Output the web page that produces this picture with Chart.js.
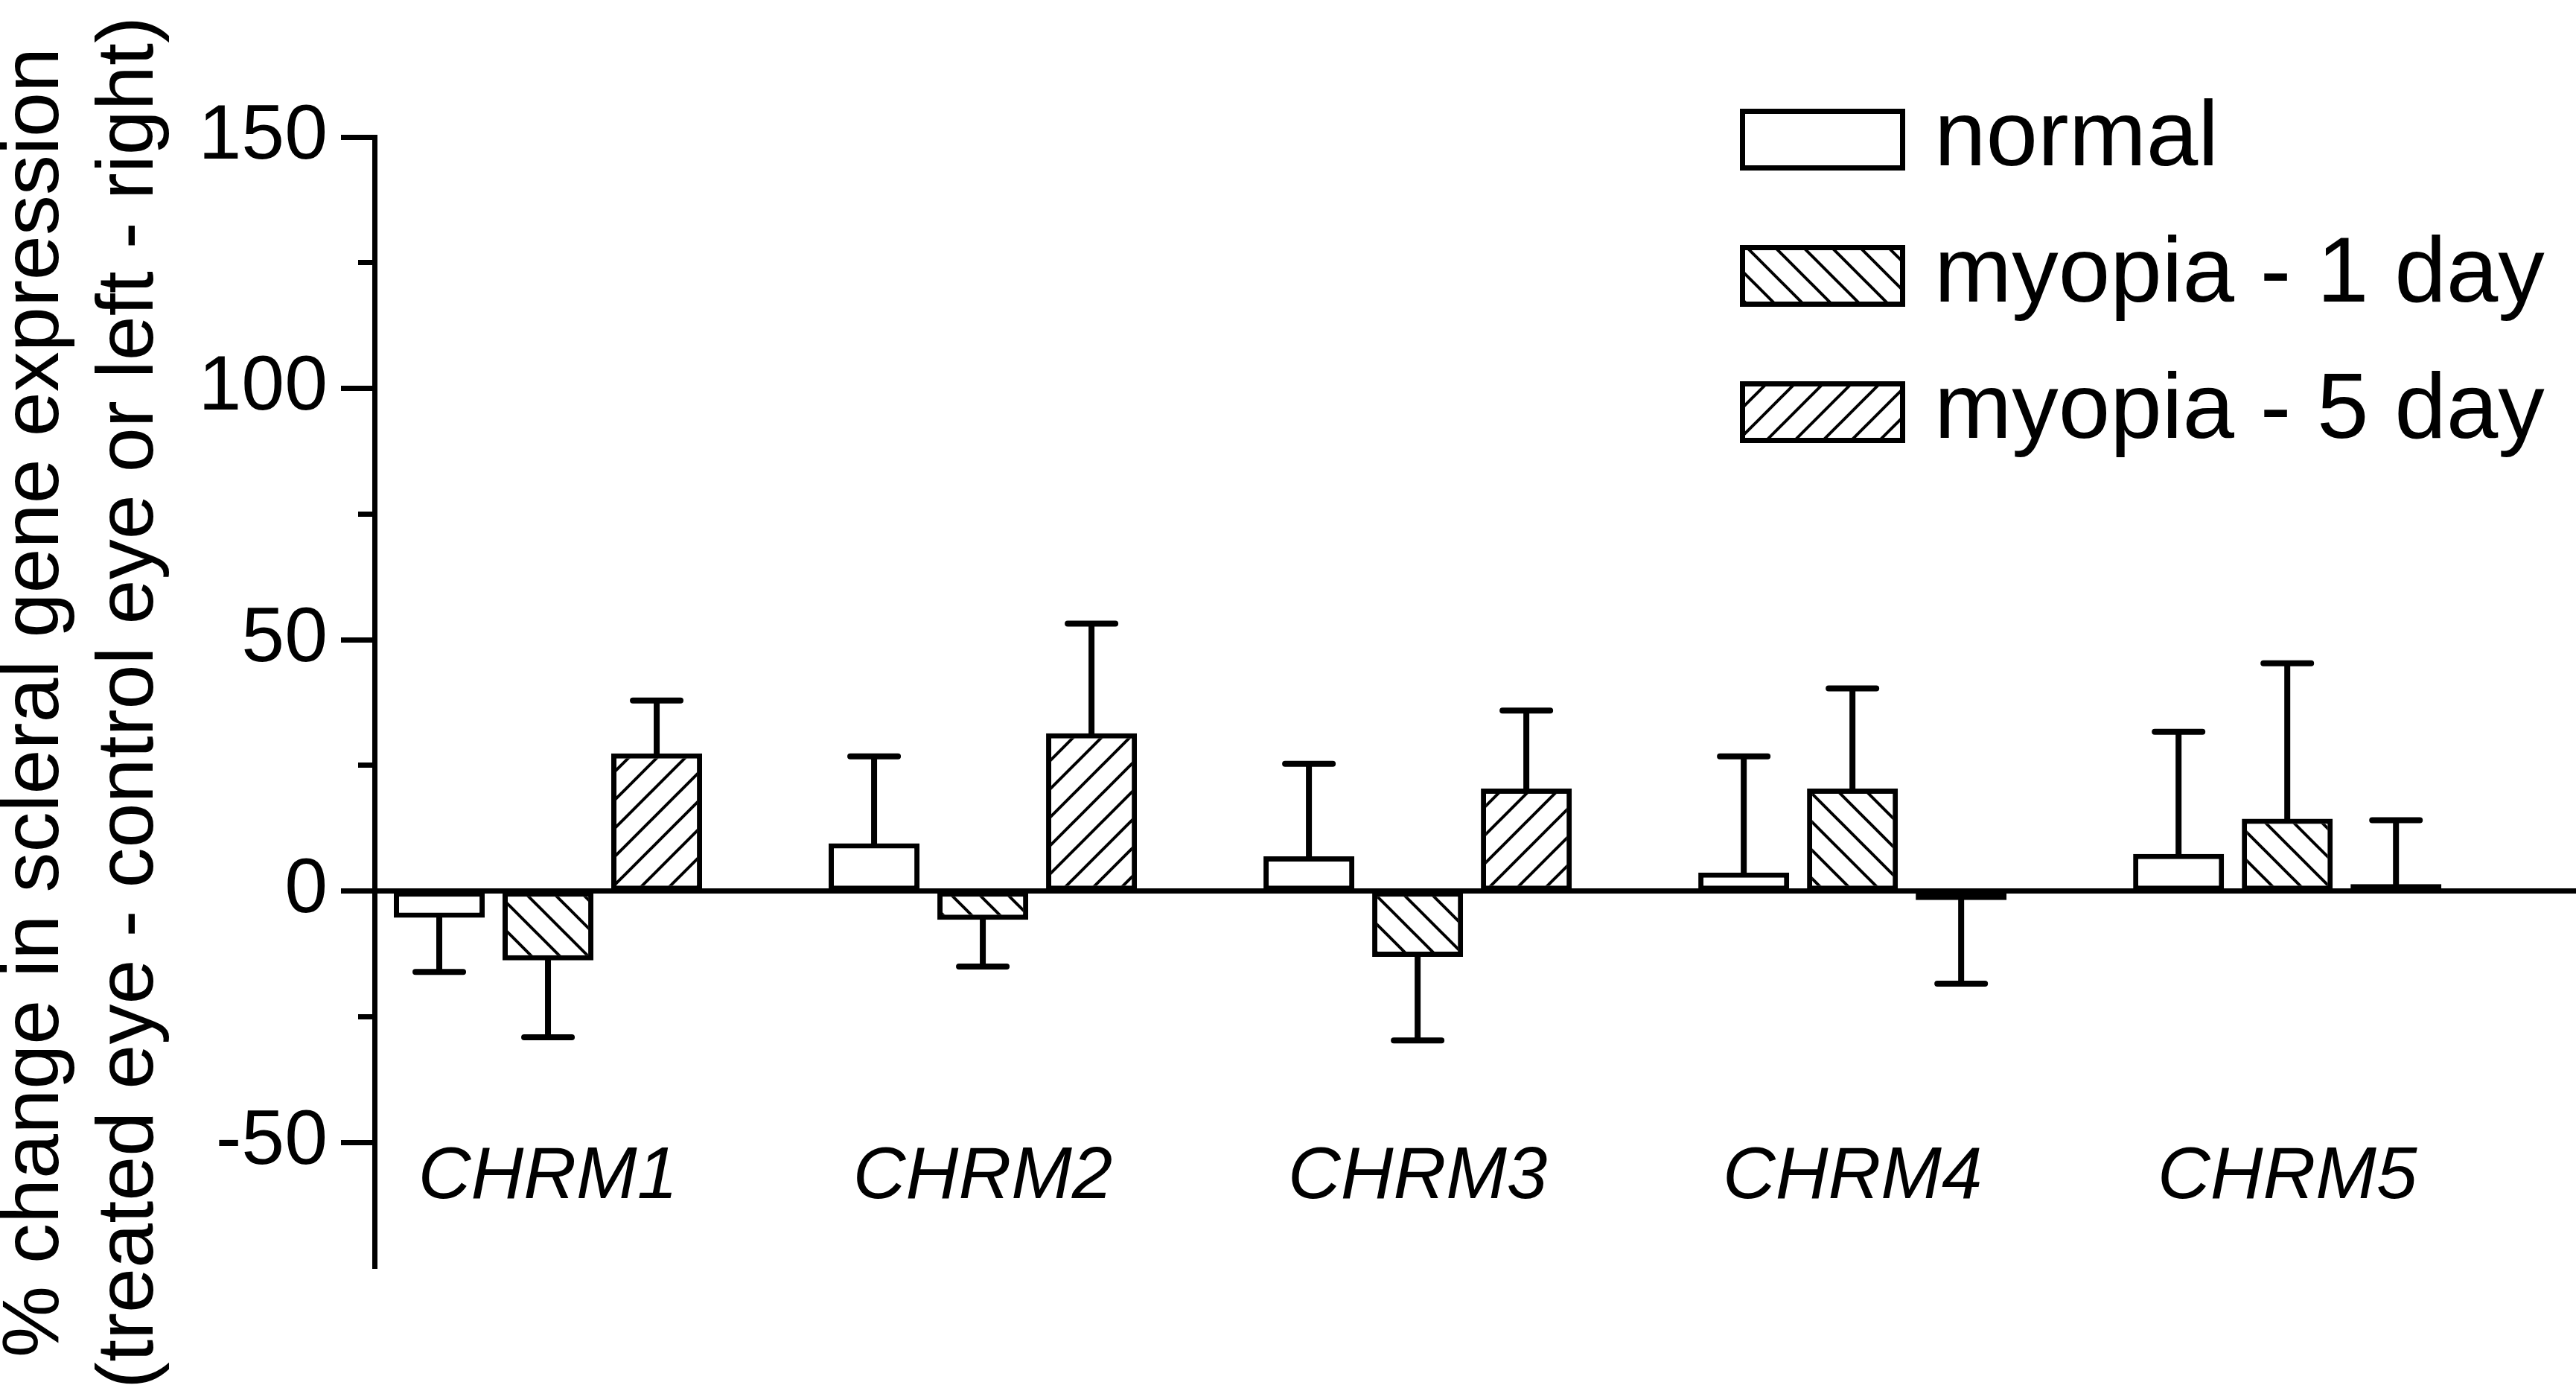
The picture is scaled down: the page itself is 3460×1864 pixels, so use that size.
<!DOCTYPE html>
<html>
<head>
<meta charset="utf-8">
<script src="https://cdn.jsdelivr.net/npm/chart.js@4.4.1/dist/chart.umd.min.js"></script>
<style>
  html, body { margin: 0; padding: 0; background: #fff; }
  canvas { display: block; }
</style>
</head>
<body>
<canvas id="geneChart" width="3460" height="1864"></canvas>
<script>
// values (% change, mean and one-sided error)
const genes = ['CHRM1', 'CHRM2', 'CHRM3', 'CHRM4', 'CHRM5'];
const seriesNames = ['normal', 'myopia - 1 day', 'myopia - 5 day'];

const normal = [-5.3, 9.5, 6.9, 3.7, 7.4];
const normalErr = [10.8, 17.3, 18.4, 23.1, 24.3];

const myopia1 = [-13.8, -5.7, -13.1, 20.4, 14.4];
const myopia1Err = [15.3, 9.3, 16.6, 19.9, 30.9];

const myopia5 = [27.4, 31.4, 20.4, -1.8, 1.4];
const myopia5Err = [10.5, 21.8, 15.5, 16.6, 12.7];

const majorTicks = [-50, 0, 50, 100, 150];
const minorTicks = [-25, 25, 75, 125];

const FONT = "'Liberation Sans', Arial, Helvetica, sans-serif";
const X_MIN = -0.399;
const X_MAX = 4.664;

// diagonal hatch fill, dir 1 = '/', dir -1 = '\'
function hatch(dir) {
    const s = 38;
    const c = document.createElement('canvas');
    c.width = s;
    c.height = s;
    const g = c.getContext('2d');
    g.fillStyle = '#fff';
    g.fillRect(0, 0, s, s);
    g.strokeStyle = '#000';
    g.lineWidth = 4;
    g.beginPath();
    for (let k = -1; k <= 1; k++) {
        if (dir > 0) {
            g.moveTo(k * s - s, s * 2);
            g.lineTo(k * s + s * 2, -s);
        } else {
            g.moveTo(k * s - s, -s);
            g.lineTo(k * s + s * 2, s * 2);
        }
    }
    g.stroke();
    return g.createPattern(c, 'repeat');
}

const toPoints = arr => arr.map((v, i) => ({ x: i, y: v }));

// error bars drawn away from zero
const errorBars = {
    id: 'errorBars',
    afterDatasetsDraw(chart) {
        const { ctx } = chart;
        const yScale = chart.scales.y;
        chart.data.datasets.forEach((ds, di) => {
            const meta = chart.getDatasetMeta(di);
            meta.data.forEach((bar, i) => {
                const v = ds.data[i].y;
                const e = ds.errors[i];
                const end = yScale.getPixelForValue(v >= 0 ? v + e : v - e);
                ctx.save();
                ctx.strokeStyle = '#000';
                ctx.lineWidth = 8;
                ctx.lineCap = 'round';
                ctx.beginPath();
                ctx.moveTo(bar.x, bar.y);
                ctx.lineTo(bar.x, end);
                ctx.moveTo(bar.x - 32, end);
                ctx.lineTo(bar.x + 32, end);
                ctx.stroke();
                ctx.restore();
            });
        });
    }
};

// legend stacked in the upper right corner
const boxLegend = {
    id: 'boxLegend',
    afterDraw(chart) {
        const { ctx } = chart;
        chart.data.datasets.forEach((ds, i) => {
            const x = 2337, w = 222, h = 83;
            const y = 146 + i * 183;
            ctx.save();
            ctx.fillStyle = ds.backgroundColor;
            ctx.fillRect(x, y, w, h);
            ctx.strokeStyle = '#000';
            ctx.lineWidth = 7;
            ctx.strokeRect(x + 3.5, y + 3.5, w - 7, h - 7);
            ctx.fillStyle = '#000';
            ctx.font = '125px ' + FONT;
            ctx.textBaseline = 'middle';
            ctx.textAlign = 'left';
            ctx.fillText(ds.label, 2598, y + h / 2);
            ctx.restore();
        });
    }
};

const barStyle = {
    borderColor: '#000',
    borderWidth: 7,
    borderSkipped: false,
    categoryPercentage: 0.75,
    barPercentage: 0.836
};

new Chart(document.getElementById('geneChart').getContext('2d'), {
    type: 'bar',
    data: {
        datasets: [
            { label: seriesNames[0], data: toPoints(normal), errors: normalErr, backgroundColor: '#fff', ...barStyle },
            { label: seriesNames[1], data: toPoints(myopia1), errors: myopia1Err, backgroundColor: hatch(-1), ...barStyle },
            { label: seriesNames[2], data: toPoints(myopia5), errors: myopia5Err, backgroundColor: hatch(1), ...barStyle }
        ]
    },
    options: {
        responsive: false,
        devicePixelRatio: 1,
        animation: false,
        layout: {
            padding: { top: 184, bottom: 161, left: 0, right: 0 }
        },
        plugins: {
            legend: { display: false },
            tooltip: { enabled: false }
        },
        scales: {
            x: {
                type: 'linear',
                min: X_MIN,
                max: X_MAX,
                offset: false,
                position: { y: 0 },
                // invisible tick marks push the gene labels down to the -60 level
                grid: { display: false, drawTicks: true, tickLength: 310 },
                border: { display: true, color: '#000', width: 7 },
                afterBuildTicks: axis => {
                    axis.ticks = genes.map((_, i) => ({ value: i }));
                },
                afterFit: axis => {
                    axis.paddingLeft = 0;
                    axis.paddingRight = 0;
                },
                ticks: {
                    autoSkip: false,
                    maxRotation: 0,
                    padding: 16,
                    color: '#000',
                    font: { family: FONT, size: 98, style: 'italic', lineHeight: 1.2 },
                    callback: value => genes[value] ?? ''
                }
            },
            y: {
                position: 'left',
                min: -75,
                max: 150,
                afterBuildTicks: axis => {
                    axis.ticks = majorTicks.map(v => ({ value: v }));
                },
                afterFit: axis => {
                    axis.width = 503;
                },
                grid: {
                    display: true,
                    drawOnChartArea: false,
                    drawTicks: true,
                    tickLength: 45,
                    tickWidth: 7,
                    tickColor: '#000'
                },
                border: { display: true, color: '#000', width: 7 },
                ticks: {
                    padding: 18,
                    color: '#000',
                    font: { family: FONT, size: 104 }
                },
                title: {
                    display: true,
                    text: ['% change in scleral gene expression', '(treated eye - control eye or left - right)'],
                    color: '#000',
                    font: { family: FONT, size: 108, lineHeight: 1.176 },
                    padding: { top: -15.5, bottom: 0 }
                }
            },
            yMinor: {
                type: 'linear',
                axis: 'y',
                position: { x: X_MIN },
                min: -75,
                max: 150,
                afterBuildTicks: axis => {
                    axis.ticks = minorTicks.map(v => ({ value: v }));
                },
                grid: {
                    display: true,
                    drawOnChartArea: false,
                    drawTicks: true,
                    tickLength: 22,
                    tickWidth: 7,
                    tickColor: '#000'
                },
                border: { display: false },
                ticks: { display: false }
            }
        }
    },
    plugins: [errorBars, boxLegend]
});
</script>
</body>
</html>
